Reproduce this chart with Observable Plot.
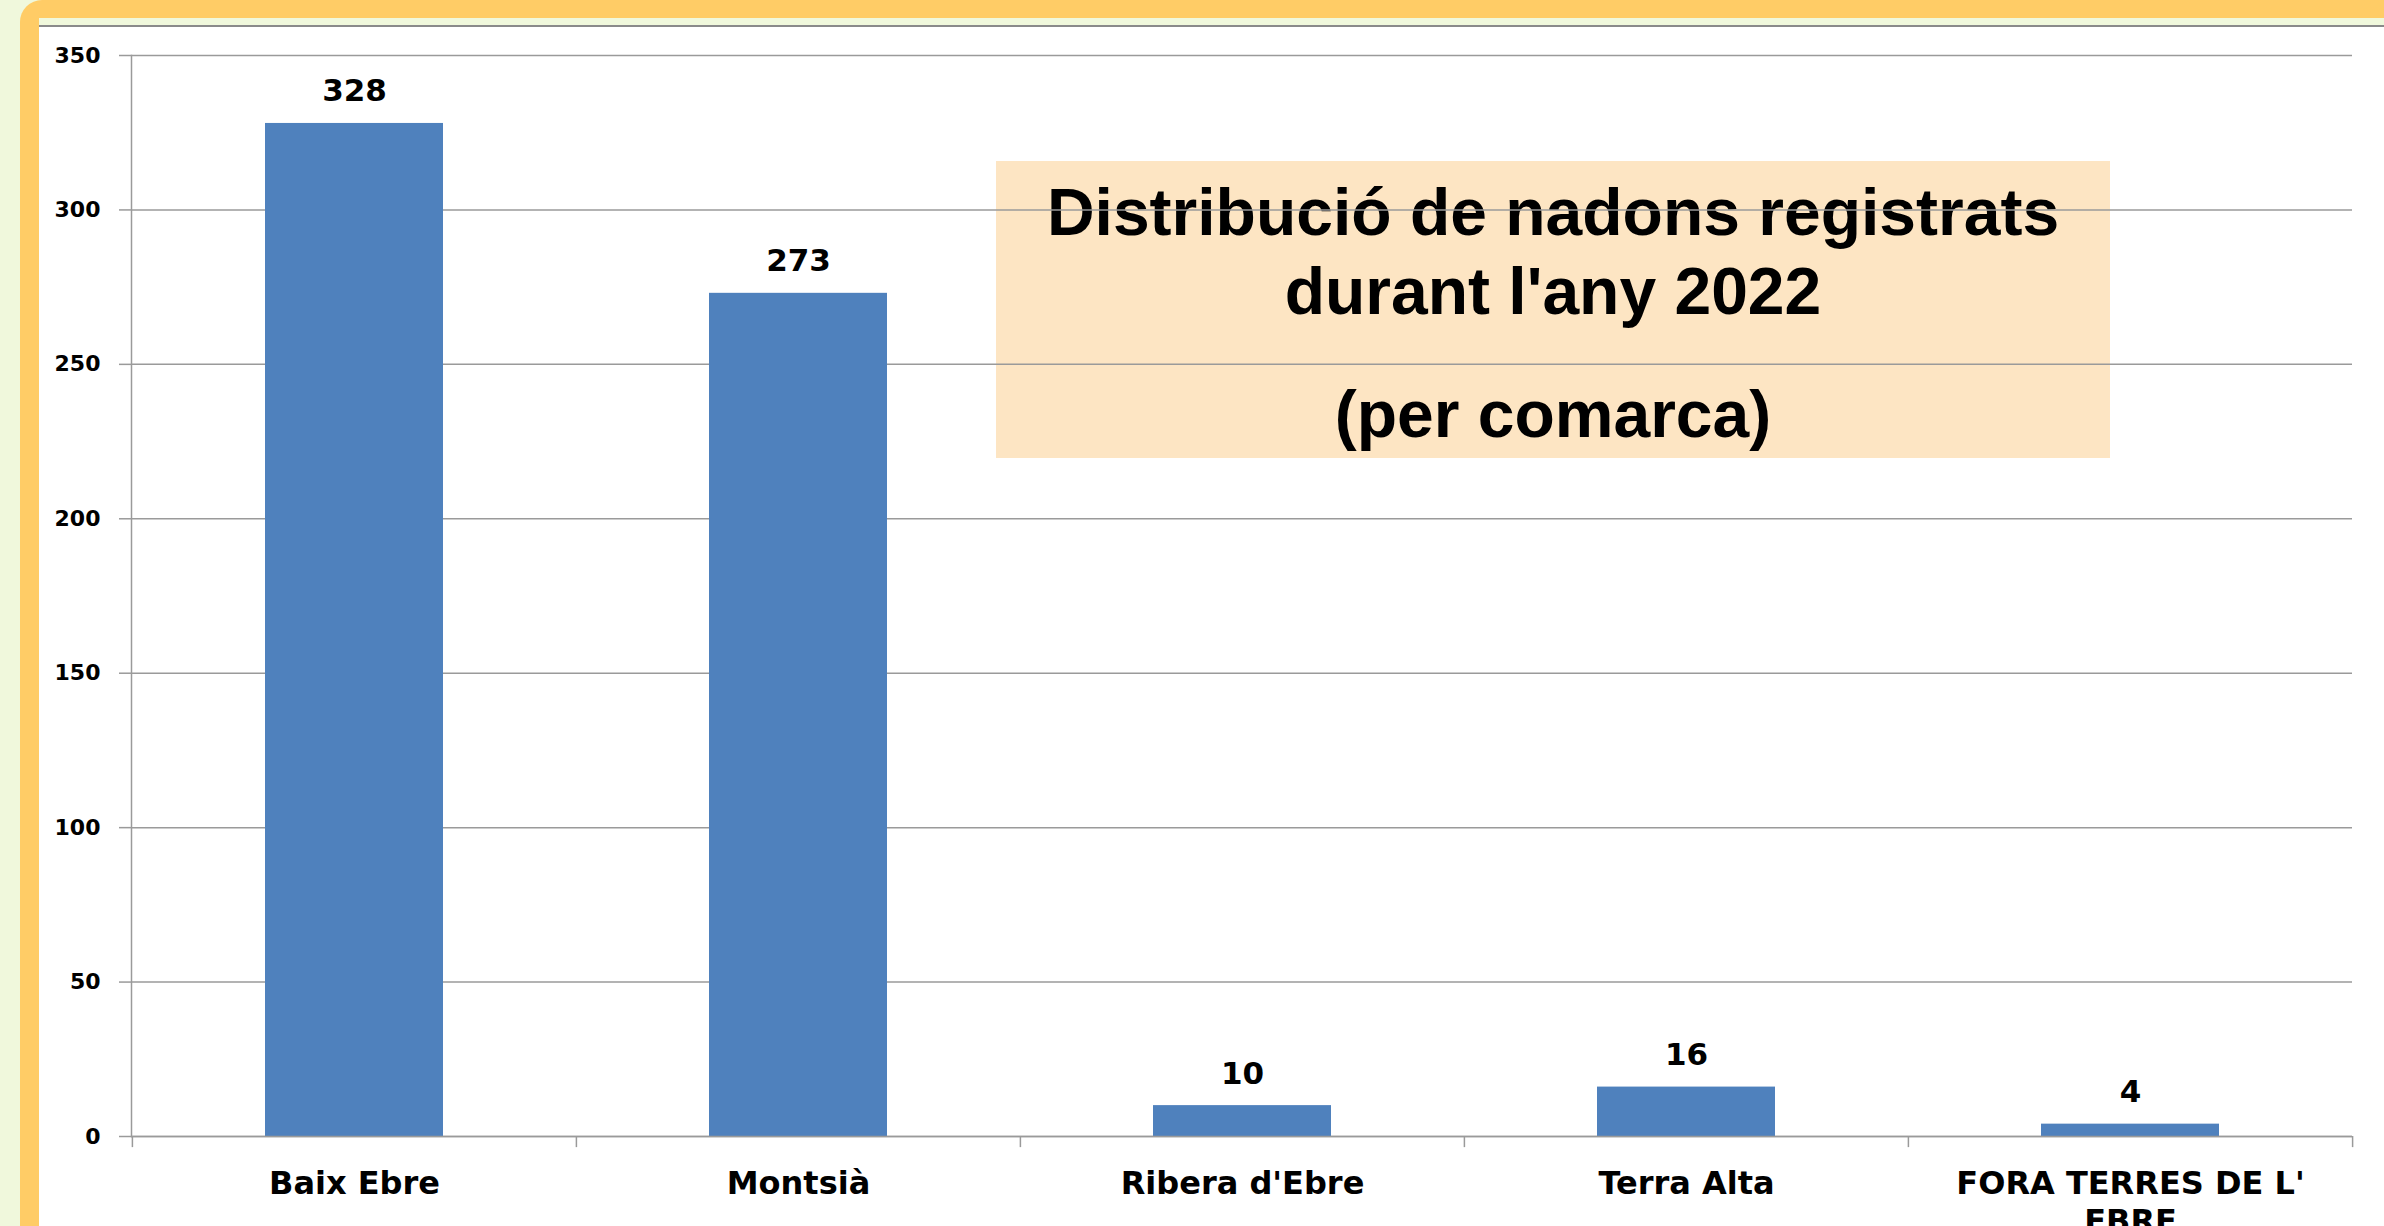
<!DOCTYPE html>
<html>
<head>
<meta charset="utf-8">
<script src="https://cdn.jsdelivr.net/npm/d3@7"></script>
<script src="https://cdn.jsdelivr.net/npm/@observablehq/plot@0.6"></script>
<style>
  html, body { margin: 0; padding: 0; }
  body { width: 2384px; height: 1226px; overflow: hidden; position: relative; background: #F0F8DC; }
  #frame { position: absolute; left: 20px; top: 0; width: 2500px; height: 1400px; background: #FFCC66; border-radius: 22px; }
  #strip { position: absolute; left: 39px; top: 18px; right: 0; bottom: 0; background: #F0F8DC; }
  #panel { position: absolute; left: 39px; top: 25px; right: 0; bottom: 0; background: #fff; border-top: 2px solid #8a8a8a; }
  #titlebox { position: absolute; left: 996px; top: 161px; width: 1114px; height: 297px; background: #FDE5C3;
    font-family: "Liberation Sans", Arial, sans-serif; font-weight: bold; color: #000; text-align: center; }
  #titlebox .l1 { position: absolute; left: 0; right: 0; top: 12px; font-size: 66px; line-height: 79px; }
  #titlebox .l3 { position: absolute; left: 0; right: 0; top: 214px; font-size: 66px; line-height: 79px; }
  #chart { position: absolute; left: 0; top: 0; }
</style>
</head>
<body>
<div id="frame"></div>
<div id="strip"></div>
<div id="panel"></div>
<div id="titlebox"><div class="l1">Distribució de nadons registrats<br>durant l'any 2022</div><div class="l3">(per comarca)</div></div>
<div id="chart"></div>
<script>
const categories = ["Baix Ebre", "Montsià", "Ribera d'Ebre", "Terra Alta", "FORA TERRES DE L' EBRE"];
const values = [328, 273, 10, 16, 4];
const yTicks = [0, 50, 100, 150, 200, 250, 300, 350];

const data = categories.map((c, i) => ({category: c, value: values[i]}));

const W = 2384, H = 1226;
const mL = 131, mR = 32, mT = 55, mB = 90;
const step = (W - mL - mR) / categories.length;
const gridColor = "#9a9a9a";
const font = "DejaVu Sans, sans-serif";

const chart = Plot.plot({
  width: W,
  height: H,
  marginLeft: mL,
  marginRight: mR,
  marginTop: mT,
  marginBottom: mB,
  style: {background: "transparent", fontFamily: font, fontWeight: "bold", color: "#000", overflow: "visible"},
  x: {domain: categories, paddingInner: 0.6, paddingOuter: 0.3},
  y: {domain: [0, 350]},
  marks: [
    Plot.ruleY(yTicks, {stroke: gridColor, strokeWidth: 1.5}),
    Plot.frame({anchor: "left", stroke: gridColor, strokeWidth: 1.5}),
    Plot.axisY({ticks: yTicks, tickSize: 12, tickPadding: 19, stroke: gridColor, strokeWidth: 1.5,
      fontSize: 22, fontWeight: "bold", fill: "#000", label: null, tickFormat: d => String(d)}),
    Plot.ruleX(categories, {x: d => d, dx: -step / 2, y1: 0, y2: -3.6, stroke: gridColor, strokeWidth: 1.5}),
    Plot.ruleX(categories.slice(-1), {x: d => d, dx: step / 2, y1: 0, y2: -3.6, stroke: gridColor, strokeWidth: 1.5}),
    Plot.barY(data, {x: "category", y: "value", fill: "#4F81BD"}),
    Plot.ruleY([0], {stroke: gridColor, strokeWidth: 1.5}),
    Plot.text(data, {x: "category", y: "value", text: d => String(d.value), dy: -32,
      fontSize: 31, fontWeight: "bold", fill: "#000"}),
    Plot.axisX({tickSize: 0, tickPadding: 30, fontSize: 32, fontWeight: "bold", fill: "#000",
      label: null, lineWidth: 12, lineHeight: 1.2, lineAnchor: "top"})
  ]
});
document.getElementById("chart").appendChild(chart);
</script>
</body>
</html>
